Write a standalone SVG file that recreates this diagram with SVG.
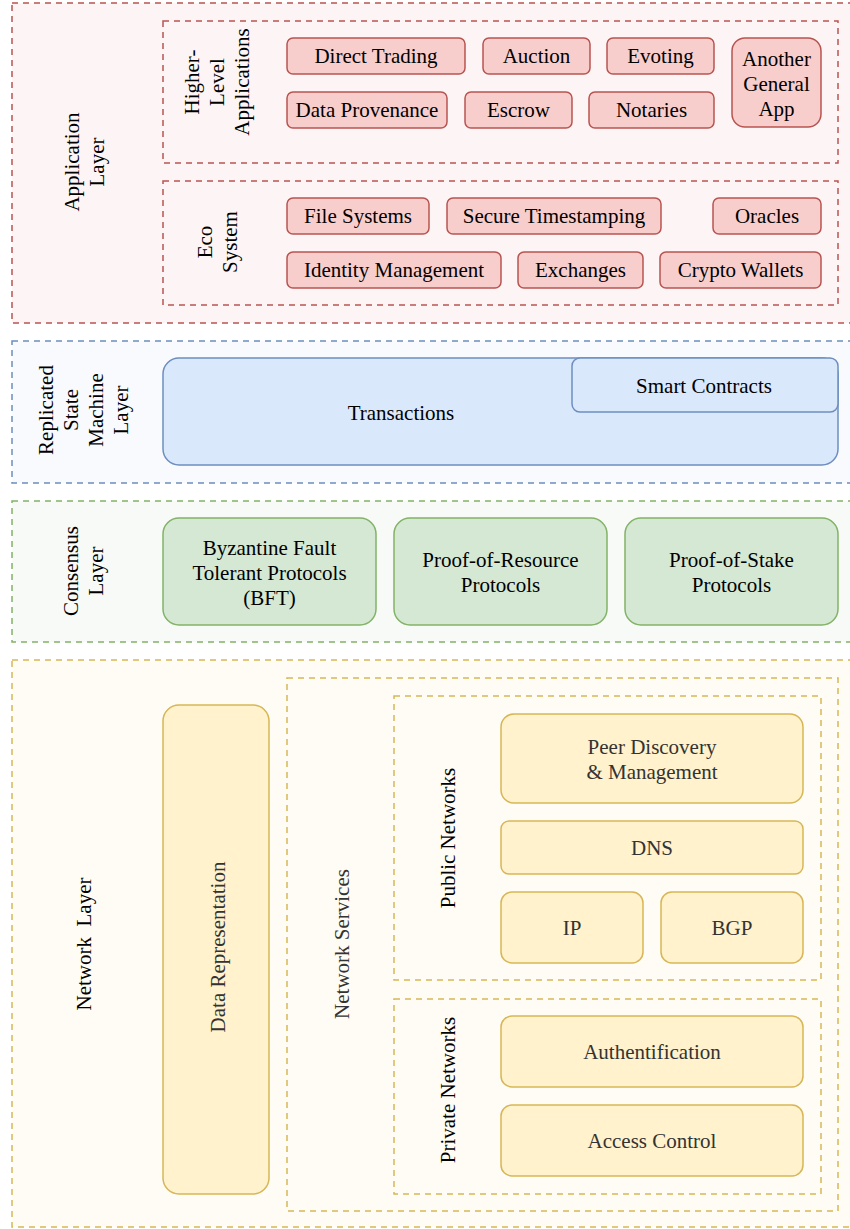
<svg xmlns="http://www.w3.org/2000/svg" width="850" height="1229" viewBox="0 0 850 1229">
<style>
text{font-family:"Liberation Serif","Times New Roman",serif;font-size:21px;text-anchor:middle;dominant-baseline:central;fill:#000}
.lay{stroke-width:1.5;stroke-dasharray:6 5}
.red{fill:#f8cecc;stroke:#b85450;stroke-width:1.5}
.blue{fill:#dae8fc;stroke:#6c8ebf;stroke-width:1.5}
.green{fill:#d5e8d4;stroke:#82b366;stroke-width:1.5}
.yel{fill:#fff2cc;stroke:#d6b656;stroke-width:1.5}
.g{fill:#333}
</style>
<rect width="850" height="1229" fill="#fff"/>

<g id="application-layer">
<rect class="lay" x="12" y="3" width="850" height="320" fill="#fdf5f5" stroke="#b85450"/>
<text transform="rotate(-90 84.5 162)"><tspan x="84.5" y="149.5">Application</tspan><tspan x="84.5" y="174.5">Layer</tspan></text>
</g>
<g id="higher-level-applications">
<rect class="lay" x="163" y="21" width="675" height="142" fill="none" stroke="#b85450"/>
<text transform="rotate(-90 217 82)"><tspan x="217" y="57">Higher-</tspan><tspan x="217" y="82">Level</tspan><tspan x="217" y="107">Applications</tspan></text>
</g>
<g id="eco-system">
<rect class="lay" x="163" y="181" width="675" height="124" fill="none" stroke="#b85450"/>
<text transform="rotate(-90 217 242)"><tspan x="217" y="229.5">Eco</tspan><tspan x="217" y="254.5">System</tspan></text>
</g>
<g id="direct-trading"><rect class="red" x="287" y="38" width="178" height="36" rx="6"/><text x="376" y="56">Direct Trading</text></g>
<g id="auction"><rect class="red" x="483" y="38" width="107" height="36" rx="6"/><text x="536.5" y="56">Auction</text></g>
<g id="evoting"><rect class="red" x="607" y="38" width="107" height="36" rx="6"/><text x="660.5" y="56">Evoting</text></g>
<g id="another-general-app"><rect class="red" x="732" y="38" width="89" height="89" rx="13"/><text x="776.5" y="58.5">Another</text><text x="776.5" y="83.5">General</text><text x="776.5" y="108.5">App</text></g>
<g id="data-provenance"><rect class="red" x="287" y="92" width="160" height="36" rx="6"/><text x="367" y="110">Data Provenance</text></g>
<g id="escrow"><rect class="red" x="465" y="92" width="107" height="36" rx="6"/><text x="518.5" y="110">Escrow</text></g>
<g id="notaries"><rect class="red" x="589" y="92" width="125" height="36" rx="6"/><text x="651.5" y="110">Notaries</text></g>
<g id="file-systems"><rect class="red" x="287" y="198" width="142" height="36" rx="6"/><text x="358" y="216">File Systems</text></g>
<g id="secure-timestamping"><rect class="red" x="447" y="198" width="214" height="36" rx="6"/><text x="554" y="216">Secure Timestamping</text></g>
<g id="oracles"><rect class="red" x="713" y="198" width="108" height="36" rx="6"/><text x="767" y="216">Oracles</text></g>
<g id="identity-management"><rect class="red" x="287" y="252" width="214" height="36" rx="6"/><text x="394" y="270">Identity Management</text></g>
<g id="exchanges"><rect class="red" x="518" y="252" width="125" height="36" rx="6"/><text x="580.5" y="270">Exchanges</text></g>
<g id="crypto-wallets"><rect class="red" x="660" y="252" width="161" height="36" rx="6"/><text x="740.5" y="270">Crypto Wallets</text></g>

<g id="replicated-state-machine-layer">
<rect class="lay" x="12" y="341" width="850" height="142" fill="#f8fafe" stroke="#6c8ebf"/>
<text transform="rotate(-90 83.5 410)"><tspan x="83.5" y="372.5">Replicated</tspan><tspan x="83.5" y="397.5">State</tspan><tspan x="83.5" y="422.5">Machine</tspan><tspan x="83.5" y="447.5">Layer</tspan></text>
</g>
<g id="transactions"><rect class="blue" x="163" y="358" width="675" height="107" rx="16"/><text x="401" y="413">Transactions</text></g>
<g id="smart-contracts"><rect class="blue" x="572" y="358" width="266" height="54" rx="8"/><text x="704" y="386">Smart Contracts</text></g>

<g id="consensus-layer">
<rect class="lay" x="12" y="501" width="850" height="141" fill="#f7faf7" stroke="#82b366"/>
<text transform="rotate(-90 83 571)"><tspan x="83" y="558.5">Consensus</tspan><tspan x="83" y="583.5">Layer</tspan></text>
</g>
<g id="bft"><rect class="green" x="163" y="518" width="213" height="107" rx="16"/><text x="269.5" y="548">Byzantine Fault</text><text x="269.5" y="573">Tolerant Protocols</text><text x="269.5" y="598">(BFT)</text></g>
<g id="proof-of-resource"><rect class="green" x="394" y="518" width="213" height="107" rx="16"/><text x="500.5" y="560">Proof-of-Resource</text><text x="500.5" y="585">Protocols</text></g>
<g id="proof-of-stake"><rect class="green" x="625" y="518" width="213" height="107" rx="16"/><text x="731.5" y="560">Proof-of-Stake</text><text x="731.5" y="585">Protocols</text></g>

<g id="network-layer">
<rect class="lay" x="12" y="660" width="850" height="567" fill="#fffcf5" stroke="#d6b656"/>
<text transform="rotate(-90 84 944)" x="84" y="944" xml:space="preserve">Network  Layer</text>
</g>
<g id="data-representation"><rect class="yel" x="163" y="705" width="106" height="489" rx="16"/><text class="g" transform="rotate(-90 218 947)" x="218" y="947">Data Representation</text></g>
<g id="network-services">
<rect class="lay" x="287" y="678" width="551" height="533" fill="none" stroke="#d6b656"/>
<text class="g" transform="rotate(-90 342 944)" x="342" y="944">Network Services</text>
</g>
<g id="public-networks">
<rect class="lay" x="394" y="696" width="427" height="284" fill="none" stroke="#d6b656"/>
<text transform="rotate(-90 448 838)" x="448" y="838">Public Networks</text>
</g>
<g id="private-networks">
<rect class="lay" x="394" y="999" width="427" height="195" fill="none" stroke="#d6b656"/>
<text transform="rotate(-90 448 1090)" x="448" y="1090">Private Networks</text>
</g>
<g id="peer-discovery"><rect class="yel" x="501" y="714" width="302" height="89" rx="13"/><text class="g" x="652" y="747">Peer Discovery</text><text class="g" x="652" y="772">&amp; Management</text></g>
<g id="dns"><rect class="yel" x="501" y="821" width="302" height="53" rx="8"/><text class="g" x="652" y="848">DNS</text></g>
<g id="ip"><rect class="yel" x="501" y="892" width="142" height="71" rx="11"/><text class="g" x="572" y="928">IP</text></g>
<g id="bgp"><rect class="yel" x="661" y="892" width="142" height="71" rx="11"/><text class="g" x="732" y="928">BGP</text></g>
<g id="authentification"><rect class="yel" x="501" y="1016" width="302" height="71" rx="11"/><text class="g" x="652" y="1052">Authentification</text></g>
<g id="access-control"><rect class="yel" x="501" y="1105" width="302" height="71" rx="11"/><text class="g" x="652" y="1141">Access Control</text></g>

<g id="connectors"></g>
</svg>
